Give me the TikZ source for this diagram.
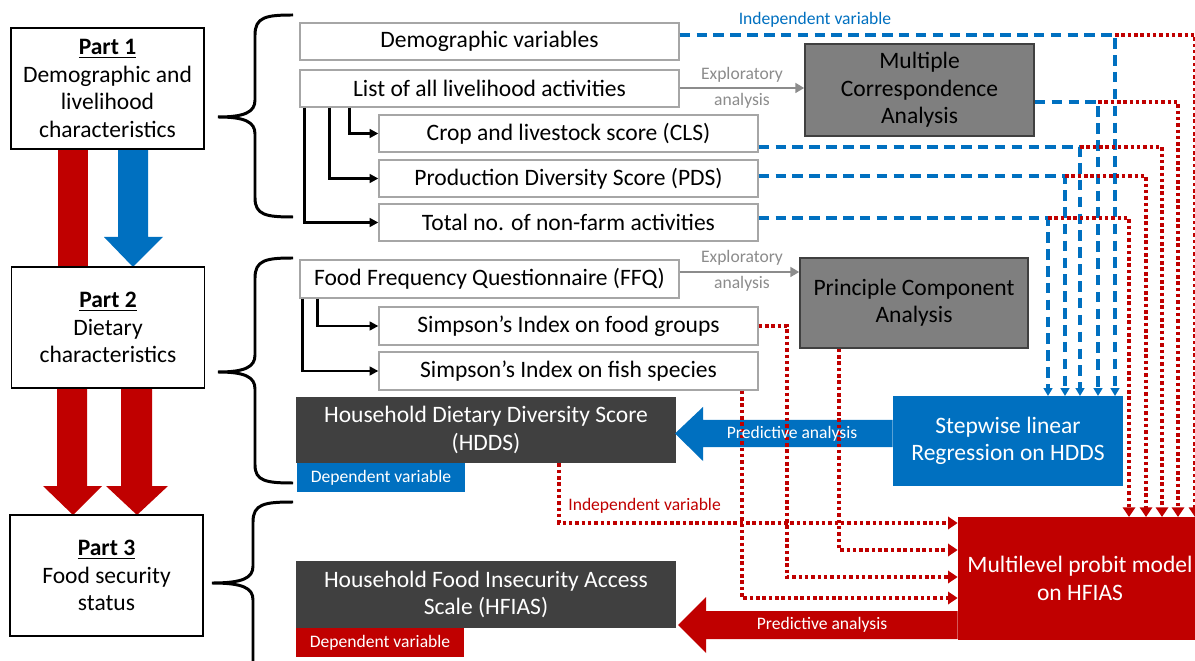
\documentclass[tikz,border=0pt]{standalone}
\usepackage{fontspec}
\setmainfont{Carlito}
\usetikzlibrary{arrows.meta,calc}
\definecolor{cblue}{HTML}{0070C0}
\definecolor{cred}{HTML}{C00000}
\definecolor{cdark}{HTML}{404040}
\definecolor{cgray}{HTML}{7F7F7F}
\definecolor{cbord}{HTML}{A6A6A6}
\definecolor{clabel}{HTML}{8C8C8C}
\newcommand\mainsz{\fontsize{13.4}{15.6}\selectfont}
\newcommand\smallsz{\fontsize{10}{12}\selectfont}
\tikzset{
  partbox/.style={draw=black, line width=0.9pt, fill=white, minimum width=3.86cm, minimum height=2.42cm, align=center, inner sep=0pt, font=\mainsz},
  wbox/.style={draw=cbord, line width=0.8pt, fill=white, minimum width=7.58cm, minimum height=0.74cm, inner sep=0pt, font=\mainsz},
  dbox/.style={fill=cdark, text=white, minimum width=7.6cm, minimum height=1.32cm, align=center, inner sep=0pt, font=\mainsz},
  depbox/.style={text=white, minimum width=3.36cm, minimum height=0.58cm, inner sep=0pt, font=\smallsz},
  gbox/.style={draw=cdark, line width=0.9pt, fill=cgray, align=center, inner sep=0pt, font=\mainsz},
  bdash/.style={cblue, line width=1.8pt, dash pattern=on 6pt off 3.6pt, -{Triangle[length=4.5pt,width=5pt]}},
  rdot/.style={cred, line width=2.1pt, dash pattern=on 2pt off 1.6pt, -{Triangle[length=5.5pt,width=7pt]}},
  tree/.style={black, line width=1.4pt, -{Triangle[length=5pt,width=5pt]}},
  expl/.style={clabel, line width=1.3pt, -{Triangle[length=5pt,width=5.5pt]}},
  brace/.style={black, line width=1.7pt},
  lab/.style={font=\smallsz, inner sep=0pt}
}
\begin{document}
\begin{tikzpicture}[x=0.02cm,y=-0.02cm]
\clip (0,0) rectangle (1195,661);
\fill[white] (0,0) rectangle (1195,661);

% big vertical arrows between parts
\fill[cred] (58,140) rectangle (88,270);
\fill[cblue] (118,140) -- (148,140) -- (148,237) -- (163,237) -- (133,267) -- (104,237) -- (118,237) -- cycle;
\fill[cred] (57,380) -- (87,380) -- (87,486) -- (102,486) -- (73,515) -- (43,486) -- (57,486) -- cycle;
\fill[cred] (121,380) -- (152,380) -- (152,486) -- (168,486) -- (137,515) -- (106,486) -- (121,486) -- cycle;

% part boxes
\node[partbox] (p1) at (107.5,88.5) {\underline{\textbf{Part 1}}\\Demographic and\\livelihood\\characteristics};
\node[partbox] (p2) at (108,327.5) {\underline{\textbf{Part 2}}\\Dietary\\characteristics};
\node[partbox] (p3) at (106.5,575.5) {\underline{\textbf{Part 3}}\\Food security\\status};

% braces
\draw[brace] (293,15) .. controls (266,15) and (255,17) .. (255,35) -- (255,100) .. controls (255,112) and (245,117) .. (218,117) .. controls (245,117) and (255,122) .. (255,134) -- (255,198) .. controls (255,215) and (266,217) .. (293,217);
\draw[brace] (293,258) .. controls (266,258) and (255,260) .. (255,278) -- (255,355) .. controls (255,367) and (245,372) .. (218,372) .. controls (245,372) and (255,377) .. (255,389) -- (255,465) .. controls (255,481) and (266,483) .. (293,483);
\draw[brace] (293,502) .. controls (264,502) and (253,504) .. (253,522) -- (253,566) .. controls (253,578) and (243,583) .. (212,583) .. controls (243,583) and (253,588) .. (253,600) -- (253,680);

% list boxes
\node[wbox] (dem) at (489.5,41.5) {Demographic variables};
\node[wbox] (list) at (489.5,88.5) {List of all livelihood activities};
\node[wbox] (cls) at (568.5,133.5) {Crop and livestock score (CLS)};
\node[wbox] (pds) at (568.5,178.5) {Production Diversity Score (PDS)};
\node[wbox] (tot) at (568.5,222.5) {Total no. of non-farm activities};
\node[wbox, minimum height=0.76cm] (ffq) at (489.5,279) {Food Frequency Questionnaire (FFQ)};
\node[wbox, minimum height=0.76cm] (fg) at (568.5,326) {Simpson’s Index on food groups};
\node[wbox, minimum height=0.76cm] (fish) at (568.5,371) {Simpson’s Index on fish species};

% tree connectors
\draw[tree] ($(list.south west)+(50,0)$) |- (cls.west);
\draw[tree] ($(list.south west)+(30,0)$) |- (pds.west);
\draw[tree] ($(list.south west)+(5,0)$) |- (tot.west);
\draw[tree] ($(ffq.south west)+(18,0)$) |- (fg.west);
\draw[tree] ($(ffq.south west)+(3,0)$) |- (fish.west);

% analysis boxes
\node[gbox, minimum width=4.58cm, minimum height=1.84cm] (mca) at (919.5,90) {Multiple\\Correspondence\\Analysis};
\node[gbox, minimum width=4.56cm, minimum height=1.8cm] (pca) at (914,303) {Principle Component\\Analysis};
\node[fill=cblue, text=white, minimum width=4.6cm, minimum height=1.8cm, align=center, inner sep=0pt, font=\mainsz] (step) at (1008,441) {Stepwise linear\\Regression on HDDS};
\node[fill=cred, text=white, minimum width=4.88cm, minimum height=2.46cm, align=center, inner sep=0pt, font=\mainsz] (prob) at (1080,578.5) {Multilevel probit model\\on HFIAS};

% outcome boxes
\node[dbox] (hdds) at (486,430) {Household Dietary Diversity Score\\(HDDS)};
\node[depbox, fill=cblue] (depb) at (381,477.5) {Dependent variable};
\node[dbox, minimum height=1.34cm] (hfias) at (486,594.5) {Household Food Insecurity Access\\Scale (HFIAS)};
\node[depbox, fill=cred] (depr) at (380,642.5) {Dependent variable};

% exploratory arrows
\coordinate (e1) at (742,88);
\coordinate (e2) at (742,272);
\draw[expl] (list.east |- e1) -- (mca.west |- e1);
\draw[expl] (ffq.east |- e2) -- (pca.west |- e2);
\node[lab, text=clabel] (ex1) at (742,75) {Exploratory};
\node[lab, text=clabel] (an1) at (742,101) {analysis};
\node[lab, text=clabel] (ex2) at (742,258) {Exploratory};
\node[lab, text=clabel] (an2) at (742,284) {analysis};

% big horizontal arrows
\coordinate (ba1) at (703,420);
\coordinate (ba2) at (703,447);
\coordinate (ra1) at (706,611);
\coordinate (ra2) at (706,639);
\fill[cblue] (step.west |- ba1) -- (ba1) -- (703,407) -- (675,433.5) -- (703,461) -- (ba2) -- (step.west |- ba2) -- cycle;
\fill[cred] (prob.west |- ra1) -- (ra1) -- (706,597) -- (678,625) -- (706,653) -- (ra2) -- (prob.west |- ra2) -- cycle;

% coordinates for routing
\coordinate (c1) at (1115,35);  \coordinate (s1) at (1115,396); \coordinate (m1) at (1195,517);
\coordinate (c2) at (1098,102); \coordinate (s2) at (1098,396); \coordinate (m2) at (1178,517);
\coordinate (c3) at (1080,147); \coordinate (s3) at (1080,396); \coordinate (m3) at (1162,517);
\coordinate (c4) at (1065,176); \coordinate (s4) at (1065,396); \coordinate (m4) at (1146,517);
\coordinate (c5) at (1048,218); \coordinate (s5) at (1048,396); \coordinate (m5) at (1129,517);

% blue dashed: independent variables to stepwise regression
\draw[bdash] (dem.east |- c1) -| (s1);
\draw[bdash] (mca.east |- c2) -| (s2);
\draw[bdash] (cls.east |- c3) -| (s3);
\draw[bdash] (pds.east |- c4) -| (s4);
\draw[bdash] (tot.east |- c5) -| (s5);
\node[lab, text=cblue] (iv1) at (815,20) {Independent variable};

% red dotted: to probit model
\draw[rdot] (c1) -| (m1);
\draw[rdot] (c2) -| (m2);
\draw[rdot] (c3) -| (m3);
\draw[rdot] (c4) -| (m4);
\draw[rdot] (c5) -| (m5);

\coordinate (h1) at (559,523);
\coordinate (q1) at (839,550);
\coordinate (f1) at (787,577);
\coordinate (k1) at (742,598);
\draw[rdot] (h1 |- hdds.south) -- (h1) -- (h1 -| prob.west);
\draw[rdot] (q1 |- pca.south) -- (q1) -- (q1 -| prob.west);
\draw[rdot] (fg.east) -| (f1) -- (f1 -| prob.west);
\draw[rdot] (k1 |- fish.south) -- (k1) -- (k1 -| prob.west);
\node[lab, text=cred, anchor=west] (iv2) at (568,506) {Independent variable};

% predictive labels
\node[lab, text=white] (pa1) at (792,433.5) {Predictive analysis};
\node[lab, text=white] (pa2) at (822,625) {Predictive analysis};
\end{tikzpicture}
\end{document}
